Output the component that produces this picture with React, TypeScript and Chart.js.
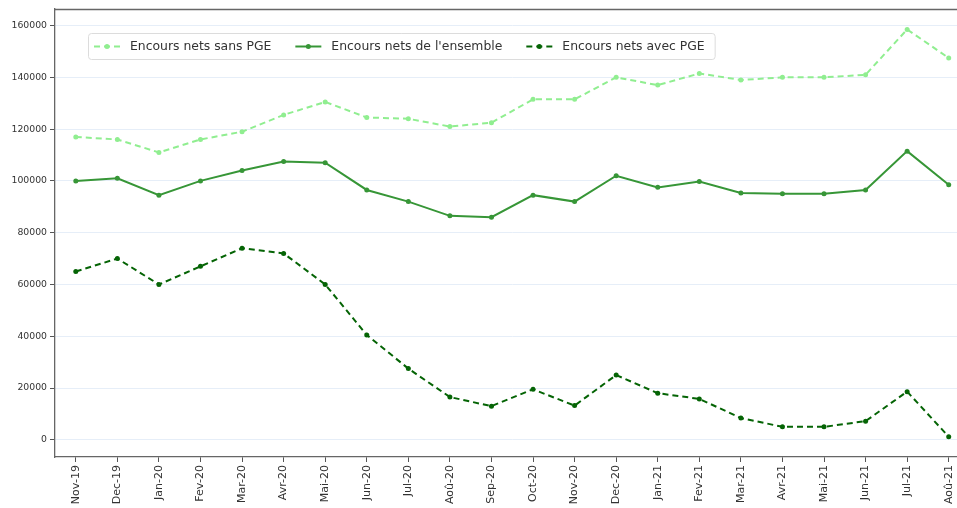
import React, { useEffect, useRef } from "react";
import { Chart, registerables } from "chart.js";

Chart.register(...registerables);

const categories = [
  "Nov-19", "Dec-19", "Jan-20", "Fev-20", "Mar-20", "Avr-20", "Mai-20", "Jun-20",
  "Jul-20", "Aoû-20", "Sep-20", "Oct-20", "Nov-20", "Dec-20", "Jan-21", "Fev-21",
  "Mar-21", "Avr-21", "Mai-21", "Jun-21", "Jul-21", "Aoû-21",
];

const sansPGE = [
  117000, 116000, 111000, 116000, 119000, 125500, 130500, 124500, 124000, 121000, 122500,
  131500, 131500, 140000, 137000, 141500, 139000, 140000, 140000, 141000, 158500, 147500,
];

const ensemble = [
  100000, 101000, 94500, 100000, 104000, 107500, 107000, 96500, 92000, 86500, 86000,
  94500, 92000, 102000, 97500, 99800, 95300, 95000, 95000, 96500, 111500, 98500,
];

const avecPGE = [
  65000, 70000, 60000, 67000, 74000, 72000, 60000, 40500, 27500, 16500, 13000,
  19500, 13200, 25000, 18000, 15800, 8400, 5000, 5000, 7200, 18600, 1200,
];

const yTicks = [0, 20000, 40000, 60000, 80000, 100000, 120000, 140000, 160000];

const seriesLabels = [
  "Encours nets sans PGE",
  "Encours nets de l'ensemble",
  "Encours nets avec PGE",
];

const colors = ["#90ee90", "#379637", "#056405"];
const dashes: number[][] = [[6, 4], [], [6, 4]];

const framePlugin = {
  id: "framePlugin",
  afterDraw(chart: any) {
    const { ctx, chartArea } = chart;
    ctx.save();
    // top spine
    ctx.strokeStyle = "#666";
    ctx.lineWidth = 1.3;
    ctx.beginPath();
    ctx.moveTo(chartArea.left, chartArea.top + 0.5);
    ctx.lineTo(chartArea.right, chartArea.top + 0.5);
    ctx.stroke();

    // legend
    ctx.font = "12.4px 'DejaVu Sans'";
    const bx = chartArea.left + 33;
    const by = chartArea.top + 24;
    const bh = 26;
    const sampleLen = 26;
    let x = bx + 6;
    const items: { sx: number; tx: number }[] = [];
    seriesLabels.forEach((lab) => {
      const w = ctx.measureText(lab).width;
      items.push({ sx: x, tx: x + sampleLen + 10 });
      x = x + sampleLen + 10 + w + 24;
    });
    const bw = x - 24 + 10 - bx;
    ctx.fillStyle = "rgba(255,255,255,0.85)";
    ctx.strokeStyle = "#dcdcdc";
    ctx.lineWidth = 1;
    ctx.beginPath();
    (ctx as any).roundRect(bx + 0.5, by + 0.5, bw, bh, 3);
    ctx.fill();
    ctx.stroke();
    const cy = by + bh / 2 + 0.5;
    items.forEach((it, i) => {
      ctx.strokeStyle = colors[i];
      ctx.lineWidth = 2;
      ctx.setLineDash(dashes[i]);
      ctx.beginPath();
      ctx.moveTo(it.sx, cy);
      ctx.lineTo(it.sx + sampleLen, cy);
      ctx.stroke();
      ctx.setLineDash([]);
      ctx.fillStyle = colors[i];
      ctx.beginPath();
      ctx.arc(it.sx + sampleLen / 2, cy, 2.5, 0, Math.PI * 2);
      ctx.fill();
      ctx.fillStyle = "#333";
      ctx.textBaseline = "middle";
      ctx.textAlign = "left";
      ctx.fillText(seriesLabels[i], it.tx, cy);
    });
    ctx.restore();
  },
};

export default function App() {
  const canvasRef = useRef<HTMLCanvasElement | null>(null);

  useEffect(() => {
    if (!canvasRef.current) return;
    const series = [sansPGE, ensemble, avecPGE];
    const chart = new Chart(canvasRef.current, {
      type: "line",
      data: {
        labels: categories,
        datasets: series.map((vals, i) => ({
          label: seriesLabels[i],
          data: vals,
          borderColor: colors[i],
          backgroundColor: colors[i],
          borderWidth: 2,
          borderDash: dashes[i],
          pointRadius: 2.5,
          pointBorderWidth: 0,
          pointBackgroundColor: colors[i],
          tension: 0,
          fill: false,
        })),
      },
      options: {
        animation: false,
        responsive: false,
        maintainAspectRatio: false,
        devicePixelRatio: 1,
        layout: { padding: { top: 9, right: 30.5, left: 0, bottom: 0 } },
        plugins: {
          legend: { display: false },
          tooltip: { enabled: false },
        },
        scales: {
          x: {
            type: "category",
            offset: true,
            grid: {
              drawOnChartArea: false,
              drawTicks: true,
              tickLength: 5,
              tickColor: "#555",
              offset: false,
            },
            border: { display: true, color: "#666", width: 1.3 },
            ticks: {
              autoSkip: false,
              maxRotation: 90,
              minRotation: 90,
              padding: 3,
              color: "#333",
              font: { family: "'DejaVu Sans'", size: 11 },
            },
            afterFit: (scale: any) => {
              scale.height = 51;
            },
          },
          y: {
            type: "linear",
            min: -6650,
            max: 166400,
            grid: {
              color: "#e6eef8",
              lineWidth: 1,
              drawTicks: true,
              tickLength: 5,
              tickColor: "#555",
            },
            border: { display: true, color: "#666", width: 1.3 },
            ticks: {
              color: "#333",
              padding: 3,
              font: { family: "'DejaVu Sans'", size: 9.3 },
              callback: (v: any) => String(v),
            },
            afterBuildTicks: (scale: any) => {
              scale.ticks = yTicks.map((v) => ({ value: v }));
            },
            afterFit: (scale: any) => {
              scale.width = 55;
            },
          },
        },
      },
      plugins: [framePlugin],
    });
    return () => chart.destroy();
  }, []);

  return (
    <div
      style={{
        position: "fixed",
        left: 0,
        top: 0,
        width: 957,
        height: 508,
        overflow: "hidden",
        background: "#fff",
      }}
    >
      <canvas ref={canvasRef} width={1000} height={508} style={{ display: "block" }} />
    </div>
  );
}
